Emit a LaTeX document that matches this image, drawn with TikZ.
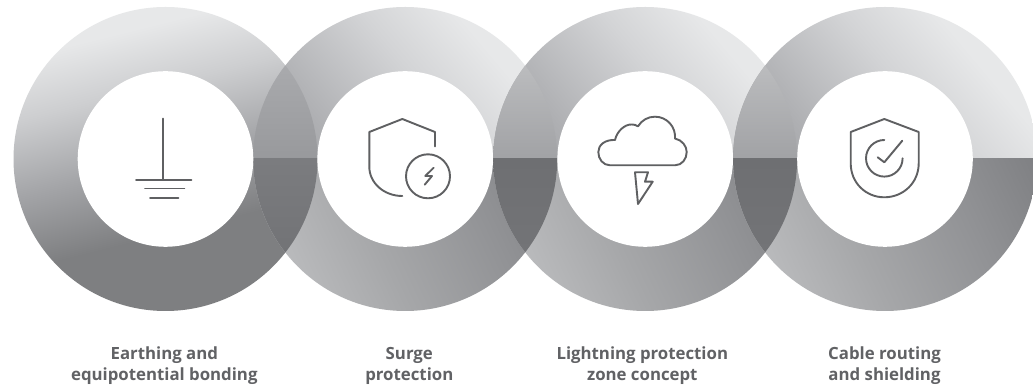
\documentclass[tikz,border=0pt]{standalone}
\usepackage{fontspec}
\setmainfont{Open Sans}
\definecolor{iconcol}{HTML}{5F6062}
\definecolor{txtcol}{HTML}{616265}
\definecolor{aa}{HTML}{E7E8E9}\definecolor{ab}{HTML}{D3D4D6}\definecolor{ac}{HTML}{AEAFB2}\definecolor{ad}{HTML}{929396}
\definecolor{ba}{HTML}{BABBBD}\definecolor{bb}{HTML}{A6A7A9}\definecolor{bc}{HTML}{919295}\definecolor{bd}{HTML}{7C7D80}
\definecolor{ca}{HTML}{E7E8E9}\definecolor{cb}{HTML}{CDCED0}\definecolor{cc}{HTML}{A4A5A8}\definecolor{cd}{HTML}{7E7F81}
\definecolor{lena}{HTML}{A9AAAD}\definecolor{lenb}{HTML}{98999C}
\definecolor{lenc}{HTML}{7B7C7F}\definecolor{lend}{HTML}{6D6E71}\definecolor{lene}{HTML}{727376}
\definecolor{lenf}{HTML}{BBBCBE}\definecolor{leng}{HTML}{A1A2A5}
\definecolor{lenh}{HTML}{6E6F72}\definecolor{leni}{HTML}{737477}
\pgfdeclareverticalshading{tophalf}{100bp}{color(0bp)=(ad);color(25bp)=(ad);color(42.5bp)=(ac);color(60bp)=(ab);color(72bp)=(aa);color(100bp)=(aa)}
\pgfdeclareverticalshading{bothalf}{100bp}{color(0bp)=(ba);color(25bp)=(ba);color(40bp)=(bb);color(58.5bp)=(bc);color(75bp)=(bd);color(100bp)=(bd)}
\pgfdeclareverticalshading{firstring}{100bp}{color(0bp)=(cd);color(25bp)=(cd);color(38bp)=(cd);color(50bp)=(cc);color(62bp)=(cb);color(72bp)=(ca);color(100bp)=(ca)}
\tikzset{
  iconline/.style={draw=iconcol,line width=1.9pt,line cap=round,line join=round},
  caption/.style={text=txtcol,align=center,font=\fontsize{16.8}{21}\selectfont\bfseries,anchor=center},
}
\begin{document}
\begin{tikzpicture}[x=1pt,y=1pt]
\useasboundingbox (0,0) rectangle (1033,390);
\fill[white] (0,0) rectangle (1033,390);
\def\cy{231}\def\rO{152}\def\rI{87.8}
% first ring
\shade[shading=firstring,shading angle=14] (165.5,\cy) circle (\rO);
% rings with split halves
\foreach \cx in {405.2,645.2,885}{
  \begin{scope}
    \clip (\cx-160,\cy) rectangle (\cx+160,\cy+160);
    \shade[shading=tophalf,shading angle=-50] (\cx,\cy) circle (\rO);
  \end{scope}
  \begin{scope}
    \clip (\cx-160,\cy) rectangle (\cx+160,\cy-160);
    \shade[shading=bothalf,shading angle=-65] (\cx,\cy) circle (\rO);
  \end{scope}
}
% overlaps
\begin{scope}
  \clip (165.5,\cy) circle (\rO); \clip (405.2,\cy) circle (\rO);
  \shade[top color=lena,bottom color=lenb] (240,\cy) rectangle (330,\cy+94);
  \shade[top color=lenc,middle color=lend,bottom color=lene] (240,\cy-94) rectangle (330,\cy);
\end{scope}
\foreach \cx in {525.2,765.1}{
\begin{scope}
  \clip (\cx-120,\cy) circle (\rO); \clip (\cx+120,\cy) circle (\rO);
  \shade[top color=lenf,bottom color=leng] (\cx-45,\cy) rectangle (\cx+45,\cy+94);
  \shade[top color=lenh,bottom color=leni] (\cx-45,\cy-94) rectangle (\cx+45,\cy);
\end{scope}
}
% inner discs
\foreach \cx in {165.5,405.2,645.2,885}{\fill[white] (\cx,\cy) circle (\rI);}
% icons
\begin{scope}[shift={(0,390)},yscale=-1]
  % earth
  \draw[iconline] (163.4,118.5) -- (163.4,180);
  \draw[iconline] (136,180) -- (191.5,180);
  \draw[iconline] (145,188.5) -- (184.3,188.5);
  \draw[iconline] (150,197.6) -- (178.5,197.6);
  % surge shield
  \draw[iconline] (402.3,196) .. controls (384,196) and (369.3,183) .. (369.3,166.7) -- (369.3,132) -- (402.3,119) -- (435,132) -- (435,146.5);
  \draw[iconline] (428,176.3) circle (22);
  \draw[iconline] (433.7,167.7) -- (425.3,176) -- (432,176) -- (424.7,184.7);
  % cloud
  \draw[iconline] (610,165.3) .. controls (603,165.3) and (598.3,159) .. (598.3,152)
    .. controls (598.3,145) and (605,139.5) .. (615,140)
    .. controls (617,131) and (625,124) .. (632,124.5)
    .. controls (634,124.5) and (636,125) .. (638,126.3)
    .. controls (642,120) and (648,116.7) .. (655,116.7)
    .. controls (667,116.7) and (676,127) .. (675,138.5)
    .. controls (682,140) and (686.7,146) .. (686.7,152)
    .. controls (686.7,159) and (682,165.3) .. (675,165.3) -- cycle;
  \draw[iconline] (635,172.3) -- (648,172.3) -- (645,181.7) -- (652.7,181.7) -- (638,204) -- cycle;
  % check shield
  \draw[iconline] (884.3,119) -- (918.7,132) -- (918.7,163.3) .. controls (918.7,183) and (903,197.3) .. (884.3,197.3)
    .. controls (866,197.3) and (850.7,183) .. (850.7,163.3) -- (850.7,132) -- cycle;
  \draw[iconline] (884.3,140) arc[start angle=-90,end angle=-360,radius=18.3];
  \draw[iconline] (877.7,157.3) -- (884.3,162.3) -- (902.3,140.7);
\end{scope}
% captions
\node[caption] (capa) at (164.3,24) {Earthing and\\equipotential bonding};
\node[caption] (capb) at (409.3,24) {Surge\\protection};
\node[caption] (capc) at (642.3,24) {Lightning protection\\zone concept};
\node[caption] (capd) at (884.5,24) {Cable routing\\and shielding};
\end{tikzpicture}
\end{document}
